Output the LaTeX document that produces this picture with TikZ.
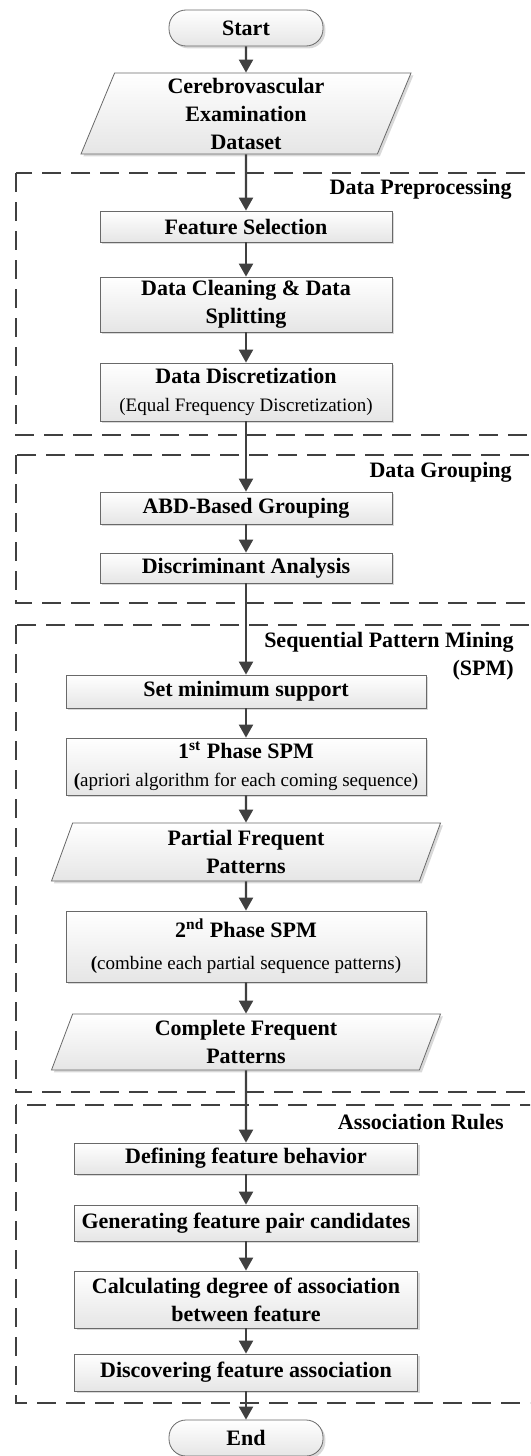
\documentclass[tikz,border=0pt]{standalone}
\usepackage{fontspec}
\setmainfont{Liberation Serif}
\usetikzlibrary{shapes, shadows, arrows.meta}
\definecolor{linegray}{RGB}{64,64,64}
\definecolor{edgegray}{RGB}{105,105,105}
\newcommand{\stepnote}[1]{{\fontsize{9.5}{12}\selectfont\mdseries #1}}
\tikzstyle{process} = [rectangle, draw=edgegray, top color=white, bottom color=gray!20,
                       drop shadow={shadow xshift=1.2pt, shadow yshift=-1.2pt, opacity=0.3},
                       align=center, inner sep=1pt, font=\fontsize{11}{14}\selectfont\bfseries]
\tikzstyle{dataio} = [process, trapezium, trapezium left angle=66, trapezium right angle=114,
                      trapezium stretches body]
\tikzstyle{terminal} = [process, rounded corners=8.5pt, minimum width=77pt, minimum height=18pt]
\tikzstyle{flowline} = [draw=linegray, line width=1.1pt, -{Triangle[length=6.5pt, width=7pt]}]
\tikzstyle{groupframe} = [draw=linegray, line width=1.25pt, dash pattern=on 9.5pt off 5pt]
\tikzstyle{grouplabel} = [anchor=east, align=right, inner sep=0pt,
                          font=\fontsize{11}{14}\selectfont\bfseries]

\begin{document}
\begin{tikzpicture}[x=0.5pt, y=-0.5pt]
				\clip (0, 0) rectangle (530, 1456);

				% dashed stages
				\draw [groupframe] (16, 173) rectangle (545, 435);
				\draw [groupframe] (16, 455) rectangle (545, 603);
				\draw [groupframe] (16, 625) rectangle (545, 1092);
				\draw [groupframe] (16, 1105) rectangle (545, 1403);

				\node (PreLabel) [grouplabel] at (512, 189) {Data Preprocessing};
				\node (GroupLabel) [grouplabel] at (512, 472) {Data Grouping};
				\node (SPMLabel) [grouplabel] at (514, 656) {Sequential Pattern Mining\\(SPM)};
				\node (AssocLabel) [grouplabel] at (504, 1122) {Association Rules};

				% input
				\node (Start) [terminal] at (246, 28) {Start};
				\node (Dataset) [dataio, minimum width=165pt, minimum height=40.5pt] at (246, 113.5)
					{Cerebrovascular\\Examination\\Dataset};

				% data preprocessing
				\node (FeatSel) [process, minimum width=146pt, minimum height=15.5pt] at (246, 226.5)
					{Feature Selection};
				\node (Cleaning) [process, minimum width=146pt, minimum height=27.5pt] at (246, 304.5)
					{Data Cleaning \& Data\\Splitting};
				\node (Discrete) [process, minimum width=146pt, minimum height=29pt] at (246, 392)
					{Data Discretization\\\stepnote{(Equal Frequency Discretization)}};

				% data grouping
				\node (ABD) [process, minimum width=146pt, minimum height=16pt] at (246, 508)
					{ABD-Based Grouping};
				\node (Discrim) [process, minimum width=146pt, minimum height=15pt] at (246, 568)
					{Discriminant Analysis};

				% sequential pattern mining
				\node (MinSup) [process, minimum width=180pt, minimum height=16.5pt] at (246, 691.5)
					{Set minimum support};
				\node (Phase1) [process, minimum width=180pt, minimum height=28.5pt] at (246, 766.5)
					{1\textsuperscript{st} Phase SPM\\\stepnote{\textbf{(}apriori algorithm for each coming sequence)}};
				\node (Partial) [dataio, minimum width=194.5pt, minimum height=29pt] at (246, 852)
					{Partial Frequent\\Patterns};
				\node (Phase2) [process, minimum width=180pt, minimum height=35.5pt] at (246, 946.5)
					{2\textsuperscript{nd} Phase SPM\\[2pt]\stepnote{\textbf{(}combine each partial sequence patterns)}};
				\node (Complete) [dataio, minimum width=194.5pt, minimum height=28pt] at (246, 1042)
					{Complete Frequent\\Patterns};

				% association rules
				\node (Behavior) [process, minimum width=171.5pt, minimum height=15.5pt] at (246, 1158.5)
					{Defining feature behavior};
				\node (Pairs) [process, minimum width=171.5pt, minimum height=18pt] at (246, 1223)
					{Generating feature pair candidates};
				\node (Degree) [process, minimum width=171.5pt, minimum height=28.5pt] at (246, 1299.5)
					{Calculating degree of association\\between feature};
				\node (Discover) [process, minimum width=171.5pt, minimum height=18.5pt] at (246, 1372.5)
					{Discovering feature association};

				\node (End) [terminal] at (246, 1438) {End};

				% flow
				\draw [flowline] (Start) -- (Dataset);
				\draw [flowline] (Dataset) -- (FeatSel);
				\draw [flowline] (FeatSel) -- (Cleaning);
				\draw [flowline] (Cleaning) -- (Discrete);
				\draw [flowline] (Discrete) -- (ABD);
				\draw [flowline] (ABD) -- (Discrim);
				\draw [flowline] (Discrim) -- (MinSup);
				\draw [flowline] (MinSup) -- (Phase1);
				\draw [flowline] (Phase1) -- (Partial);
				\draw [flowline] (Partial) -- (Phase2);
				\draw [flowline] (Phase2) -- (Complete);
				\draw [flowline] (Complete) -- (Behavior);
				\draw [flowline] (Behavior) -- (Pairs);
				\draw [flowline] (Pairs) -- (Degree);
				\draw [flowline] (Degree) -- (Discover);
				\draw [flowline] (Discover) -- (End);
\end{tikzpicture}
\end{document}
